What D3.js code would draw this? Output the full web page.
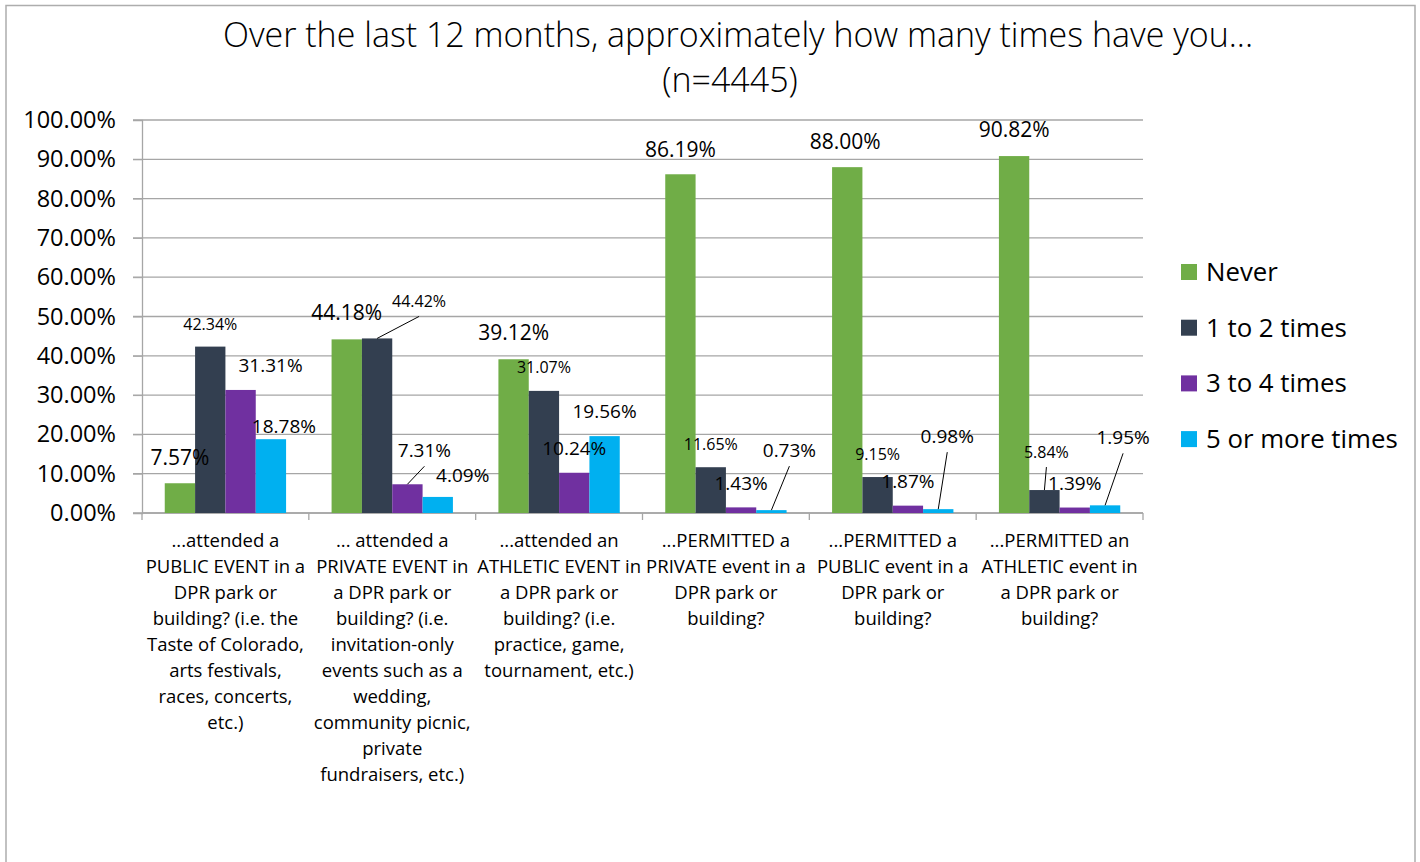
<!DOCTYPE html>
<html>
<head>
<meta charset="utf-8">
<script src="https://cdn.jsdelivr.net/npm/d3@7"></script>
<style>
  body { margin: 0; background: #fff; }
  text { font-family: "Open Sans", sans-serif; fill: #000; }
</style>
</head>
<body>
<svg id="svg1" width="1420" height="862"></svg>
<script>
// data
var categories = [
    ['...attended a', 'PUBLIC EVENT in a', 'DPR park or', 'building? (i.e. the', 'Taste of Colorado,', 'arts festivals,', 'races, concerts,', 'etc.)'],
    ['... attended a', 'PRIVATE EVENT in', 'a DPR park or', 'building? (i.e.', 'invitation-only', 'events such as a', 'wedding,', 'community picnic,', 'private', 'fundraisers, etc.)'],
    ['...attended an', 'ATHLETIC EVENT in', 'a DPR park or', 'building? (i.e.', 'practice, game,', 'tournament, etc.)'],
    ['...PERMITTED a', 'PRIVATE event in a', 'DPR park or', 'building?'],
    ['...PERMITTED a', 'PUBLIC event in a', 'DPR park or', 'building?'],
    ['...PERMITTED an', 'ATHLETIC event in', 'a DPR park or', 'building?']
];
var seriesNames = ['Never', '1 to 2 times', '3 to 4 times', '5 or more times'];
var never = [7.57, 44.18, 39.12, 86.19, 88.00, 90.82];
var oneToTwo = [42.34, 44.42, 31.07, 11.65, 9.15, 5.84];
var threeToFour = [31.31, 7.31, 10.24, 1.43, 1.87, 1.39];
var fiveOrMore = [18.78, 4.09, 19.56, 0.73, 0.98, 1.95];
var yTicks = [0, 10, 20, 30, 40, 50, 60, 70, 80, 90, 100];

// label nudges (dx, dy from the bar top, and whether a leader line is drawn)
var nudgeNever = [[0,-18,0],[0,-19,0],[0,-19,0],[0,-17,0],[-2,-18,0],[0,-19,0]];
var nudgeOneTwo = [[0,-17,0],[42,-31,1],[0,-18,0],[0,-17,0],[0,-17,0],[2,-32,1]];
var nudgeThreeFour = [[30,-18,0],[17,-27,1],[0,-18,0],[0,-17,0],[0,-18,0],[0,-18,0]];
var nudgeFive = [[13,-6,0],[25,-15,0],[0,-18,0],[18,-53,1],[9,-66,1],[18,-61,1]];

var colors = ['#70AD47', '#333F50', '#7030A0', '#00B0F0'];
var labelSizes = [21, 16, 19, 19];

var allValues = [never, oneToTwo, threeToFour, fiveOrMore];
var allNudges = [nudgeNever, nudgeOneTwo, nudgeThreeFour, nudgeFive];

var svg = d3.select('#svg1');

var plotLeft = 142, plotRight = 1143, plotTop = 120, plotBottom = 513;

var scaleX = d3.scaleBand().domain(d3.range(categories.length)).range([plotLeft, plotRight]);
var scaleInner = d3.scaleBand().domain(d3.range(seriesNames.length))
    .range([0, scaleX.bandwidth()]).paddingOuter(0.75);
var scaleY = d3.scaleLinear().domain([0, 100]).range([plotBottom, plotTop]);

// chart frame
svg.append('path')
    .attr('d', 'M6,870 V5.5 H1415 V870')
    .attr('fill', 'none')
    .attr('stroke', '#adadad')
    .attr('stroke-width', 1.5);

// title
svg.append('text')
    .text('Over the last 12 months, approximately how many times have you...')
    .attr('x', 738).attr('y', 47)
    .style('text-anchor', 'middle')
    .style('font-weight', 300)
    .style('font-size', '34px');
svg.append('text')
    .text('(n=4445)')
    .attr('x', 730).attr('y', 92)
    .style('text-anchor', 'middle')
    .style('font-weight', 300)
    .style('font-size', '34px');

// gridlines
svg.append('g')
    .selectAll('line')
    .data(yTicks)
    .enter()
    .append('line')
    .attr('x1', plotLeft - 9).attr('x2', plotRight)
    .attr('y1', function(d){ return scaleY(d); })
    .attr('y2', function(d){ return scaleY(d); })
    .attr('stroke', '#a6a6a6')
    .attr('stroke-width', 1.3);

// y axis
var yAxis = svg.append('g')
    .attr('transform', 'translate(' + plotLeft + ',0)')
    .call(d3.axisLeft(scaleY).tickValues(yTicks).tickSize(9).tickPadding(17)
        .tickFormat(function(d){ return d3.format('.2f')(d) + '%'; }));
yAxis.select('.domain').attr('stroke', '#a6a6a6').attr('stroke-width', 1.3);
yAxis.selectAll('.tick line').attr('stroke', '#a6a6a6');
yAxis.selectAll('.tick text')
    .style('font-family', '"Open Sans", sans-serif')
    .style('font-size', '23.5px')
    .attr('fill', '#000');

// x axis line and ticks between categories
svg.append('line')
    .attr('x1', plotLeft).attr('x2', plotRight)
    .attr('y1', plotBottom).attr('y2', plotBottom)
    .attr('stroke', '#a6a6a6').attr('stroke-width', 1.3);
svg.append('g')
    .selectAll('line')
    .data(d3.range(categories.length + 1))
    .enter()
    .append('line')
    .attr('x1', function(d){ return plotLeft + d * scaleX.step(); })
    .attr('x2', function(d){ return plotLeft + d * scaleX.step(); })
    .attr('y1', plotBottom).attr('y2', plotBottom + 7)
    .attr('stroke', '#a6a6a6').attr('stroke-width', 1.3);

// category labels
categories.forEach(function(lines, i){
    svg.append('text')
        .attr('transform', 'translate(' + (scaleX(i) + scaleX.bandwidth() / 2) + ',547)')
        .style('text-anchor', 'middle')
        .style('font-size', '18.5px')
        .selectAll('tspan')
        .data(lines)
        .enter()
        .append('tspan')
        .attr('x', 0)
        .attr('y', function(d, k){ return k * 26; })
        .text(function(d){ return d; });
});

// bars
allValues.forEach(function(values, s){
    svg.append('g')
        .selectAll('rect')
        .data(values)
        .enter()
        .append('rect')
        .attr('x', function(d, i){ return scaleX(i) + scaleInner(s); })
        .attr('width', scaleInner.bandwidth())
        .attr('y', function(d){ return scaleY(d); })
        .attr('height', function(d){ return plotBottom - scaleY(d); })
        .attr('fill', colors[s]);
});

// data labels
allValues.forEach(function(values, s){
    values.forEach(function(v, i){
        var cx = scaleX(i) + scaleInner(s) + scaleInner.bandwidth() / 2;
        var ty = scaleY(v);
        var n = allNudges[s][i];
        if (n[2]) {
            svg.append('line')
                .attr('x1', cx).attr('y1', ty)
                .attr('x2', cx + n[0]).attr('y2', ty + n[1] + 9)
                .attr('stroke', '#000').attr('stroke-width', 1);
        }
        svg.append('text')
            .text(d3.format('.2f')(v) + '%')
            .attr('x', cx + n[0]).attr('y', ty + n[1])
            .style('text-anchor', 'middle')
            .style('font-size', labelSizes[s] + 'px');
    });
});

// legend
var legend = svg.append('g')
    .selectAll('g')
    .data(seriesNames)
    .enter()
    .append('g')
    .attr('transform', function(d, k){ return 'translate(1181,' + (272 + k * 55.7) + ')'; });
legend.append('rect')
    .attr('x', 0).attr('y', -8)
    .attr('width', 16).attr('height', 16)
    .attr('fill', function(d, k){ return colors[k]; });
legend.append('text')
    .text(function(d){ return d; })
    .attr('x', 25).attr('y', 9)
    .style('font-size', '25.8px');
</script>
</body>
</html>
